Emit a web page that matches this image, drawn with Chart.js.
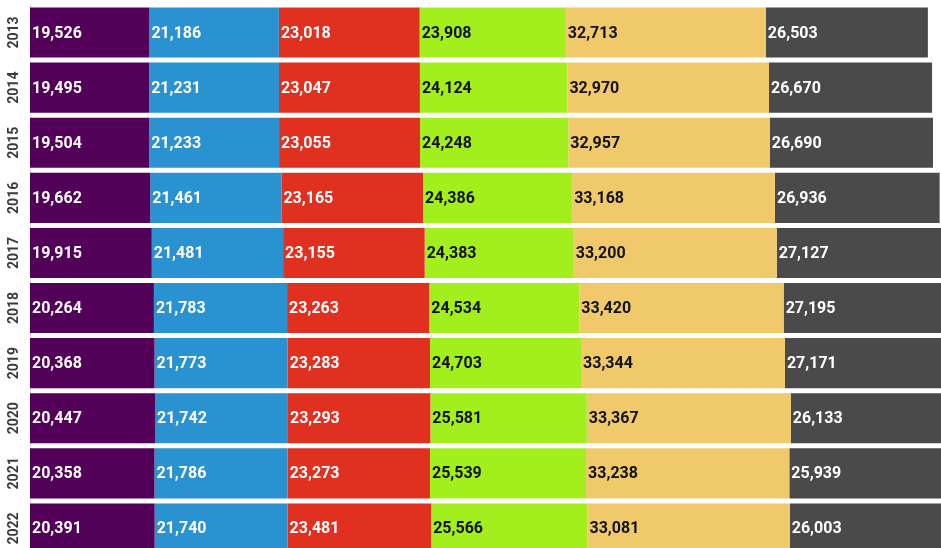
<!DOCTYPE html>
<html>
<head>
<meta charset="utf-8">
<script src="https://cdn.jsdelivr.net/npm/chart.js@4"></script>
<style>
  html, body { margin: 0; padding: 0; background: #fff; overflow: hidden; }
  #wrap { position: relative; width: 941px; height: 556px; }
</style>
</head>
<body>
<div id="wrap"><canvas id="grafico"></canvas></div>
<script>
// Dados
const anos = ['2013', '2014', '2015', '2016', '2017', '2018', '2019', '2020', '2021', '2022'];

const serie1 = [19526, 19495, 19504, 19662, 19915, 20264, 20368, 20447, 20358, 20391];
const serie2 = [21186, 21231, 21233, 21461, 21481, 21783, 21773, 21742, 21786, 21740];
const serie3 = [23018, 23047, 23055, 23165, 23155, 23263, 23283, 23293, 23273, 23481];
const serie4 = [23908, 24124, 24248, 24386, 24383, 24534, 24703, 25581, 25539, 25566];
const serie5 = [32713, 32970, 32957, 33168, 33200, 33420, 33344, 33367, 33238, 33081];
const serie6 = [26503, 26670, 26690, 26936, 27127, 27195, 27171, 26133, 25939, 26003];

const cores = ['#520058', '#2a92d0', '#e0301f', '#a3ee1d', '#efc96a', '#4a4a4a'];
const coresTexto = ['#ffffff', '#ffffff', '#ffffff', '#111111', '#111111', '#ffffff'];

const series = [serie1, serie2, serie3, serie4, serie5, serie6];

// Plugin simples para escrever os valores no início de cada segmento
const rotulos = {
    id: 'rotulos',
    afterDatasetsDraw(chart) {
        const { ctx, chartArea } = chart;
        ctx.save();
        ctx.beginPath();
        ctx.rect(chartArea.left, chartArea.top, chartArea.right - chartArea.left, chartArea.bottom - chartArea.top);
        ctx.clip();
        ctx.font = 'bold 16px Roboto';
        ctx.textBaseline = 'middle';
        ctx.textAlign = 'left';
        chart.data.datasets.forEach((ds, i) => {
            const meta = chart.getDatasetMeta(i);
            ctx.fillStyle = coresTexto[i];
            meta.data.forEach((bar, j) => {
                const v = ds.data[j];
                ctx.fillText(v.toLocaleString('en-US'), bar.base + 2, bar.y + 1);
            });
        });
        ctx.restore();
    }
};

new Chart(document.getElementById('grafico'), {
    type: 'bar',
    data: {
        labels: anos,
        datasets: series.map((s, i) => ({
            data: s,
            backgroundColor: cores[i],
            borderWidth: 0,
            barPercentage: 0.91,
            categoryPercentage: 1
        }))
    },
    options: {
        indexAxis: 'y',
        responsive: true,
        maintainAspectRatio: false,
        animation: false,
        layout: { padding: { top: 5, left: 0, right: 0, bottom: 0 } },
        plugins: {
            legend: { display: false },
            tooltip: { enabled: false }
        },
        scales: {
            x: {
                stacked: true,
                min: 0,
                max: 149000,
                display: false
            },
            y: {
                stacked: true,
                grid: { display: false, drawTicks: false },
                border: { display: true, color: '#dddddd' },
                ticks: {
                    minRotation: 90,
                    maxRotation: 90,
                    crossAlign: 'center',
                    padding: -1,
                    color: '#3a3a3a',
                    font: { family: 'Roboto', size: 14, weight: 'bold' }
                },
                afterFit(scale) {
                    scale.width = 30;
                    scale.paddingTop = 0;
                    scale.paddingBottom = 0;
                }
            }
        }
    },
    plugins: [rotulos]
});
</script>
</body>
</html>
